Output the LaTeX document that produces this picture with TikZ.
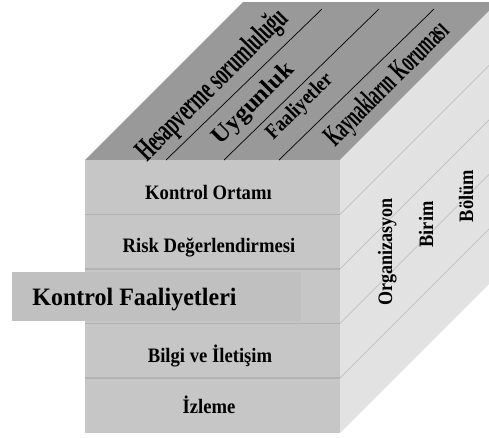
\documentclass[tikz,border=0pt]{standalone}
\usepackage{fontspec}
\setmainfont{Liberation Serif}
\definecolor{frontc}{HTML}{C6C6C6}
\definecolor{boxc}{HTML}{C0C0C0}
\definecolor{topc}{HTML}{999999}
\definecolor{sidec}{HTML}{E2E2E2}
\definecolor{sepc}{HTML}{B2B2B2}
\definecolor{sidelinec}{HTML}{B8B8B8}
\begin{document}
\begin{tikzpicture}[x=1pt,y=-1pt,
  rowtext/.style={anchor=base, inner sep=0pt, text=black, font=\fontsize{20.5}{22}\selectfont\bfseries},
  bigtext/.style={anchor=base, inner sep=0pt, text=black, font=\fontsize{25}{27}\selectfont\bfseries},
  sidetext/.style={anchor=base, rotate=90, inner sep=0pt, text=black, font=\fontsize{20.5}{22}\selectfont\bfseries},
  toptext/.style={anchor=center, rotate=45, inner sep=0pt, text=black},
  sepline/.style={draw=sepc, line width=1.5pt},
  sideline/.style={draw=sidelinec, line width=0.5pt},
  divline/.style={draw=black, line width=0.7pt}]
\useasboundingbox (0,0) rectangle (489,437);
\clip (0,0) rectangle (489,437);
% corners
\coordinate (FTL) at (85,160);
\coordinate (FTR) at (340,160);
\coordinate (FBL) at (85,433);
\coordinate (FBR) at (340,433);
\coordinate (BTL) at (243,2);
\coordinate (BTR) at (498,2);
\coordinate (BBR) at (498,275);
% faces
\fill[topc] (FTL) -- (BTL) -- (BTR) -- (FTR) -- cycle;
\fill[sidec] (FTR) -- (BTR) -- (BBR) -- (FBR) -- cycle;
\fill[frontc] (FTL) rectangle (FBR);
% row separators and side lines
\foreach \yy/\nm in {214.5/a,269/b,323.5/c,378/d}{
  \coordinate (SL\nm) at (85,\yy);
  \coordinate (SR\nm) at (340,\yy);
  \draw[sepline] (SL\nm) -- (SR\nm);
  \draw[sideline] (SR\nm) -- ++(158,-158);
}
% top dividers
\coordinate (D1a) at (166,160); \coordinate (D1b) at (322,9);
\coordinate (D2a) at (224,160); \coordinate (D2b) at (379,9);
\coordinate (D3a) at (279,160); \coordinate (D3b) at (434,9);
\draw[divline] (D1a) -- (D1b);
\draw[divline] (D2a) -- (D2b);
\draw[divline] (D3a) -- (D3b);
% highlighted box
\fill[boxc] (12,272) rectangle (301,321);
% front texts
\node[rowtext] (r1) at (208.5,199) {\scalebox{0.91}[1]{Kontrol Ortamı}};
\node[rowtext] (r2) at (209,252) {\scalebox{0.91}[1]{Risk Değerlendirmesi}};
\node[bigtext] (r3) at (134.5,305) {\scalebox{0.96}[1]{Kontrol Faaliyetleri}};
\node[rowtext] (r4) at (210,362.3) {\scalebox{0.91}[1]{Bilgi ve İletişim}};
\node[rowtext] (r5) at (209,413.3) {\scalebox{0.91}[1]{İzleme}};
% side texts
\node[sidetext] (s1) at (392,252) {\scalebox{0.88}[1]{Organizasyon}};
\node[sidetext] (s2) at (433,224.5) {\scalebox{0.9}[1]{Birim}};
\node[sidetext] (s3) at (473,196) {\scalebox{0.9}[1]{Bölüm}};
% top texts
\node[toptext, font=\fontsize{25}{27}\selectfont\bfseries] (t1) at (213,86) {\scalebox{0.73}[1.25]{Hesapverme sorumluluğu}};
\node[toptext, font=\fontsize{20}{22}\selectfont\bfseries] (t2) at (254,104) {\scalebox{1.25}[1.2]{Uygunluk}};
\node[toptext, font=\fontsize{18.5}{20}\selectfont\bfseries] (t3) at (300,107) {\scalebox{1.0}[1.15]{Faaliyetler}};
\node[toptext, font=\fontsize{24}{26}\selectfont\bfseries] (t4) at (388,85) {\scalebox{0.68}[1.25]{Kaynakların Koruması}};
\end{tikzpicture}
\end{document}
